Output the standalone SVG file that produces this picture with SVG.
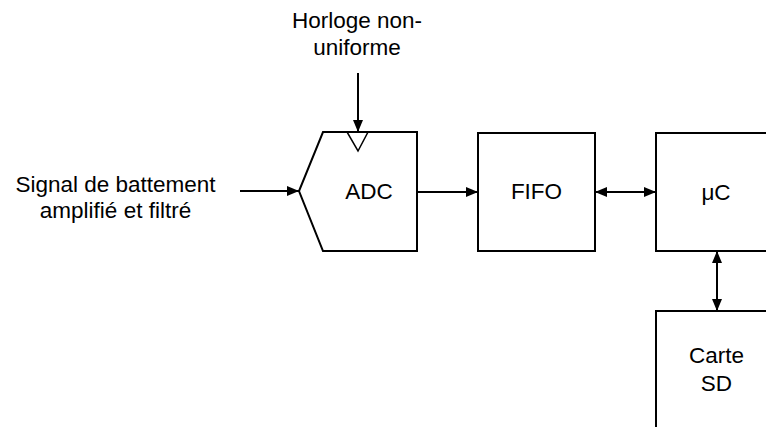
<svg xmlns="http://www.w3.org/2000/svg" width="766" height="427" viewBox="0 0 766 427">
<style>
.box{fill:#fff;stroke:#000;stroke-width:2}
.lbl{font-family:"Liberation Sans",Arial,sans-serif;font-size:22.5px;fill:#000;text-anchor:middle}
.conn{stroke:#000;stroke-width:2;fill:none}
</style>
<defs>
<marker id="ah" viewBox="0 0 12 10" refX="12" refY="5" markerWidth="12" markerHeight="10" markerUnits="userSpaceOnUse" orient="auto-start-reverse">
<path d="M0,0 L12,5 L0,10 z" fill="#000"/>
</marker>
</defs>
<rect width="766" height="427" fill="#fff"/>
<g id="input-label">
<text class="lbl" x="115.5" y="192">Signal de battement</text>
<text class="lbl" x="115.5" y="218">amplifié et filtré</text>
</g>
<g id="clock-label">
<text class="lbl" x="357" y="28">Horloge non-</text>
<text class="lbl" x="357" y="55">uniforme</text>
</g>
<g id="adc">
<path class="box" d="M323,132 H417 V251 H323 L299,191 Z"/>
<path d="M347,132 L368,132 L358,151 Z" fill="none" stroke="#000" stroke-width="1.5"/>
<text class="lbl" x="369" y="199">ADC</text>
</g>
<g id="fifo">
<rect class="box" x="478" y="133" width="117" height="118"/>
<text class="lbl" x="536.5" y="199">FIFO</text>
</g>
<g id="uc">
<rect class="box" x="656" y="133" width="120" height="118"/>
<text class="lbl" x="716" y="200">μC</text>
</g>
<g id="sd">
<rect class="box" x="656" y="311" width="120" height="130"/>
<text class="lbl" x="716.5" y="363">Carte</text>
<text class="lbl" x="716.5" y="391">SD</text>
</g>
<g id="connectors">
<path class="conn" d="M240,191 H299" marker-end="url(#ah)"/>
<path class="conn" d="M358,73 V132" marker-end="url(#ah)"/>
<path class="conn" d="M417,192 H478" marker-end="url(#ah)"/>
<path class="conn" d="M595,192 H656" marker-start="url(#ah)" marker-end="url(#ah)"/>
<path class="conn" d="M717,251 V311" marker-start="url(#ah)" marker-end="url(#ah)"/>
</g>
</svg>
